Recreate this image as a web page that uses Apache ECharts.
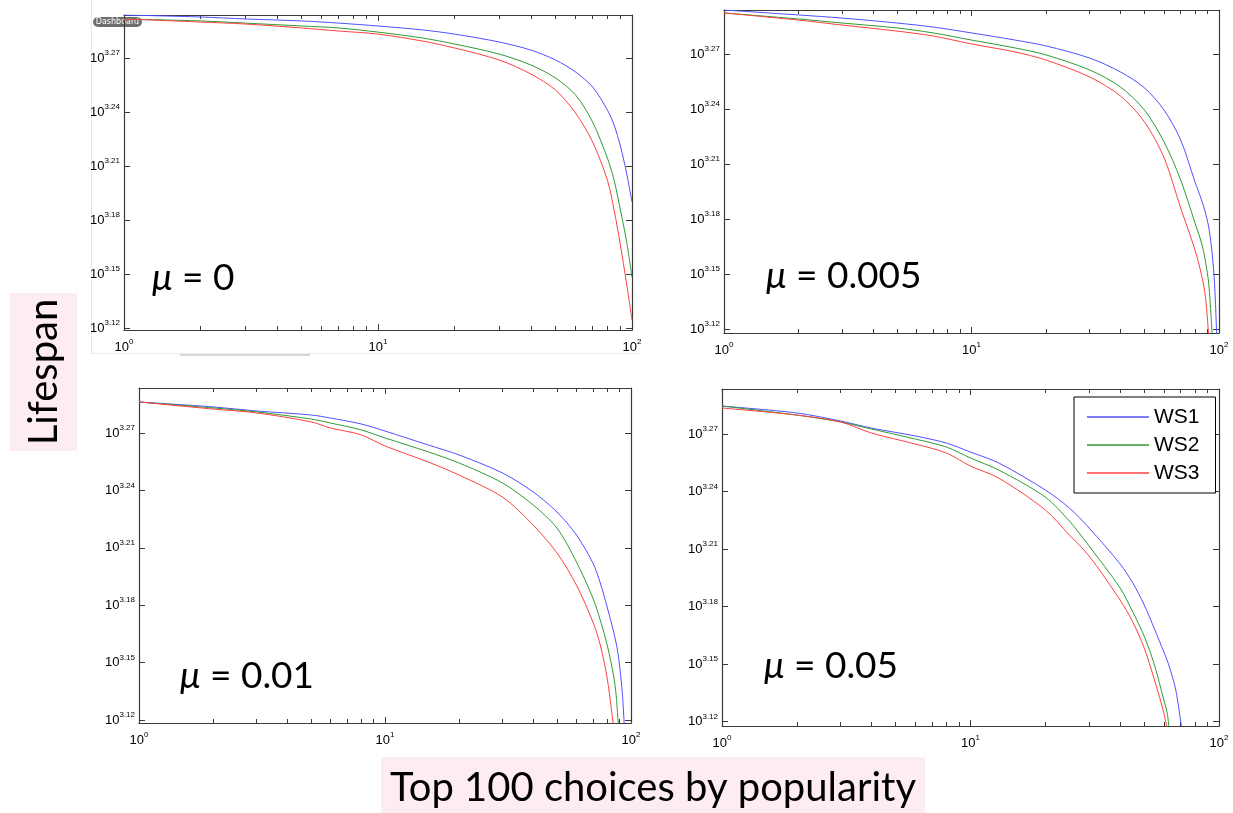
<!DOCTYPE html>
<html>
<head>
<meta charset="utf-8">
<title>Lifespan of top 100 choices</title>
<script src="https://cdn.jsdelivr.net/npm/echarts@6/dist/echarts.min.js"></script>
<style>
  html, body { margin: 0; padding: 0; background: #fff; }
  #chart { width: 1233px; height: 813px; }
</style>
</head>
<body>
<div id="chart"></div>
<script>
const seriesNames = ['WS1', 'WS2', 'WS3']
const yTicks = [3.12, 3.15, 3.18, 3.21, 3.24, 3.27]
const muLabels = ['0', '0.005', '0.01', '0.05']

// values are log10 of lifespan
// mu = 0
const ranksMu0 = [1, 2, 3, 5, 7, 10, 15, 20, 30, 40, 50, 60, 70, 80, 85, 90, 95, 100]
const ws1Mu0 = [3.2939, 3.2928, 3.2917, 3.2906, 3.2894, 3.2878, 3.2856, 3.2833, 3.2789, 3.2744, 3.2689, 3.2622, 3.2539, 3.2411, 3.2328, 3.2211, 3.2067, 3.1900]
const ws2Mu0 = [3.2917, 3.2906, 3.2894, 3.2878, 3.2867, 3.2844, 3.2811, 3.2778, 3.2722, 3.2661, 3.2589, 3.2494, 3.2344, 3.2144, 3.2022, 3.1856, 3.1689, 3.1483]
const ws3Mu0 = [3.2917, 3.2900, 3.2889, 3.2867, 3.2850, 3.2833, 3.2794, 3.2756, 3.2689, 3.2611, 3.2522, 3.2394, 3.2233, 3.2022, 3.1856, 3.1661, 3.1456, 3.1244]

// mu = 0.005
const ranksMu005 = [1, 2, 3, 5, 7, 10, 15, 20, 30, 40, 50, 60, 70, 80, 85, 88, 91, 94, 96, 98]
const ws1Mu005 = [3.2940, 3.2913, 3.2896, 3.2869, 3.2847, 3.2815, 3.2776, 3.2744, 3.2678, 3.2602, 3.2515, 3.2394, 3.2231, 3.2002, 3.1904, 3.1838, 3.1751, 3.1603, 3.1440, 3.1150]
const ws2Mu005 = [3.2924, 3.2891, 3.2869, 3.2842, 3.2815, 3.2776, 3.2733, 3.2695, 3.2613, 3.2520, 3.2394, 3.2220, 3.2013, 3.1778, 3.1669, 3.1576, 3.1440, 3.1150, null, null]
const ws3Mu005 = [3.2924, 3.2885, 3.2858, 3.2825, 3.2798, 3.2755, 3.2711, 3.2667, 3.2575, 3.2471, 3.2329, 3.2133, 3.1860, 3.1631, 3.1494, 3.1385, 3.1150, null, null, null]

// mu = 0.01
const ranksMu01 = [1, 2, 3, 5, 6, 8, 10, 15, 20, 30, 40, 50, 60, 70, 75, 80, 85, 87, 89, 92, 94]
const ws1Mu01 = [3.2862, 3.2836, 3.2815, 3.2794, 3.2778, 3.2747, 3.2710, 3.2637, 3.2585, 3.2491, 3.2392, 3.2287, 3.2167, 3.2020, 3.1916, 3.1790, 3.1660, 3.1602, 3.1529, 3.1357, 3.1160]
const ws2Mu01 = [3.2862, 3.2831, 3.2810, 3.2773, 3.2752, 3.2716, 3.2674, 3.2601, 3.2543, 3.2439, 3.2324, 3.2203, 3.2026, 3.1837, 3.1722, 3.1592, 3.1430, 3.1330, 3.1160, null, null]
const ws3Mu01 = [3.2862, 3.2825, 3.2805, 3.2758, 3.2726, 3.2690, 3.2632, 3.2548, 3.2480, 3.2365, 3.2219, 3.2073, 3.1905, 3.1712, 3.1592, 3.1419, 3.1160, null, null, null, null]

// mu = 0.05
const ranksMu05 = [1, 2, 3, 4, 6, 8, 10, 13, 20, 25, 30, 40, 45, 50, 55, 60, 62, 63, 67, 71]
const ws1Mu05 = [3.2846, 3.2810, 3.2768, 3.2731, 3.2690, 3.2653, 3.2606, 3.2549, 3.2408, 3.2314, 3.2210, 3.2022, 3.1923, 3.1809, 3.1683, 3.1563, 3.1516, 3.1490, 3.1365, 3.1150]
const ws2Mu05 = [3.2846, 3.2799, 3.2763, 3.2726, 3.2674, 3.2632, 3.2575, 3.2512, 3.2371, 3.2246, 3.2116, 3.1897, 3.1771, 3.1646, 3.1495, 3.1312, 3.1239, 3.1150, null, null]
const ws3Mu05 = [3.2836, 3.2799, 3.2763, 3.2705, 3.2648, 3.2601, 3.2533, 3.2470, 3.2304, 3.2173, 3.2064, 3.1834, 3.1719, 3.1584, 3.1417, 3.1245, 3.1150, null, null, null]

const COLORS = ['#5050ff', '#329a32', '#ff4040']
const AXIS_COLOR = '#3a3a3a'
const PINK = '#fdecf3'

const panels = [
  { ranks: ranksMu0, values: [ws1Mu0, ws2Mu0, ws3Mu0], yMin: 3.1189, yMax: 3.2939,
    grid: { left: 124, top: 15, width: 508, height: 315 }, mu: [152, 278] },
  { ranks: ranksMu005, values: [ws1Mu005, ws2Mu005, ws3Mu005], yMin: 3.1178, yMax: 3.2940,
    grid: { left: 724, top: 10, width: 495, height: 323 }, mu: [766, 276] },
  { ranks: ranksMu01, values: [ws1Mu01, ws2Mu01, ws3Mu01], yMin: 3.1184, yMax: 3.2935,
    grid: { left: 139, top: 388, width: 492, height: 335 }, mu: [180, 676] },
  { ranks: ranksMu05, values: [ws1Mu05, ws2Mu05, ws3Mu05], yMin: 3.1177, yMax: 3.2935,
    grid: { left: 722, top: 389, width: 497, height: 337 }, mu: [764, 666] }
]

const powRich = {
  b: { fontSize: 13, fontFamily: 'Liberation Sans', color: '#000' },
  s: { fontSize: 8, fontFamily: 'Liberation Sans', color: '#000', padding: [0, 0, 10, 0] }
}

function initChart(){
  const chart = echarts.init(document.getElementById('chart'))
  const grid = [], xAxis = [], yAxis = [], series = [], graphic = []

  panels.forEach((p, i) => {
    grid.push(p.grid)
    const tickLine = { lineStyle: { color: AXIS_COLOR, width: 1 } }
    const xBase = {
      gridIndex: i, type: 'log', logBase: 10, min: 1, max: 100,
      axisLine: { lineStyle: { color: AXIS_COLOR, width: 1.2 } },
      axisTick: { inside: true, length: 6, ...tickLine },
      minorTick: { show: true, splitNumber: 9, length: 4, ...tickLine },
      splitLine: { show: false },
      minorSplitLine: { show: false }
    }
    xAxis.push({
      ...xBase, position: 'bottom',
      axisLabel: {
        margin: 8,
        formatter: v => `{b|10}{s|${Math.round(Math.log10(v))}}`,
        rich: powRich
      }
    })
    xAxis.push({ ...xBase, position: 'top', axisLabel: { show: false } })

    const yBase = {
      gridIndex: i, type: 'value', min: p.yMin, max: p.yMax,
      axisLine: { show: true, lineStyle: { color: AXIS_COLOR, width: 1.2 } },
      axisTick: { show: true, inside: true, length: 6, customValues: yTicks, ...tickLine },
      splitLine: { show: false }
    }
    yAxis.push({
      ...yBase, position: 'left',
      axisLabel: {
        margin: 4, customValues: yTicks,
        formatter: v => `{b|10}{s|${v.toFixed(2)}}`,
        rich: powRich
      }
    })
    yAxis.push({ ...yBase, position: 'right', axisLabel: { show: false } })

    p.values.forEach((vals, k) => {
      series.push({
        name: seriesNames[k],
        type: 'line',
        xAxisIndex: i * 2,
        yAxisIndex: i * 2,
        showSymbol: false,
        smooth: 0.3,
        clip: true,
        lineStyle: { width: 1, color: COLORS[k] },
        itemStyle: { color: COLORS[k] },
        data: p.ranks.map((r, j) => [r, vals[j]]).filter(d => d[1] !== null)
      })
    })

    graphic.push({
      type: 'text', x: p.mu[0], y: p.mu[1],
      style: {
        text: `{m|μ} = ${muLabels[i]}`,
        fontSize: 37, fontFamily: 'Lato', fill: '#000',
        verticalAlign: 'middle',
        rich: { m: { fontSize: 37, fontFamily: 'Lato', fontStyle: 'italic' } }
      }
    })
  })

  // screenshot frame and badge around the first panel
  graphic.push(
    { type: 'line', shape: { x1: 91.5, y1: 0, x2: 91.5, y2: 353 }, style: { stroke: '#e8e8e8', lineWidth: 1 } },
    { type: 'line', shape: { x1: 91, y1: 353.5, x2: 640, y2: 353.5 }, style: { stroke: '#ececec', lineWidth: 1 } },
    { type: 'line', shape: { x1: 180, y1: 355, x2: 310, y2: 355 }, style: { stroke: '#d6d6d6', lineWidth: 2 } },
    { type: 'rect', shape: { x: 93, y: 17, width: 49, height: 10, r: 5 }, style: { fill: '#6f6f6f' } },
    { type: 'text', x: 117.5, y: 22, style: { text: 'Dashboard', fontSize: 8, fontFamily: 'DejaVu Sans', fill: '#fff', align: 'center', verticalAlign: 'middle' } },
    // axis titles
    { type: 'rect', shape: { x: 10, y: 293, width: 67, height: 158 }, style: { fill: PINK } },
    { type: 'text', x: 44, y: 372, rotation: Math.PI / 2,
      style: { text: 'Lifespan', fontSize: 40, fontFamily: 'Lato', fill: '#000', align: 'center', verticalAlign: 'middle' } },
    { type: 'rect', shape: { x: 381, y: 757, width: 544, height: 56 }, style: { fill: PINK } },
    { type: 'text', x: 653, y: 788,
      style: { text: 'Top 100 choices by popularity', fontSize: 40, fontFamily: 'Lato', fill: '#000', align: 'center', verticalAlign: 'middle' } }
  )

  chart.setOption({
    animation: false,
    backgroundColor: '#fff',
    grid,
    xAxis,
    yAxis,
    legend: {
      data: seriesNames,
      orient: 'vertical',
      left: 1074,
      top: 397,
      padding: [8, 16, 8, 13],
      itemGap: 4,
      itemWidth: 62,
      itemHeight: 1.5,
      icon: 'rect',
      backgroundColor: '#fff',
      borderColor: '#000',
      borderWidth: 1,
      borderRadius: 0,
      textStyle: { fontSize: 21, fontFamily: 'Liberation Sans', color: '#000', lineHeight: 24 }
    },
    series,
    graphic
  })
}

initChart()
</script>
</body>
</html>
